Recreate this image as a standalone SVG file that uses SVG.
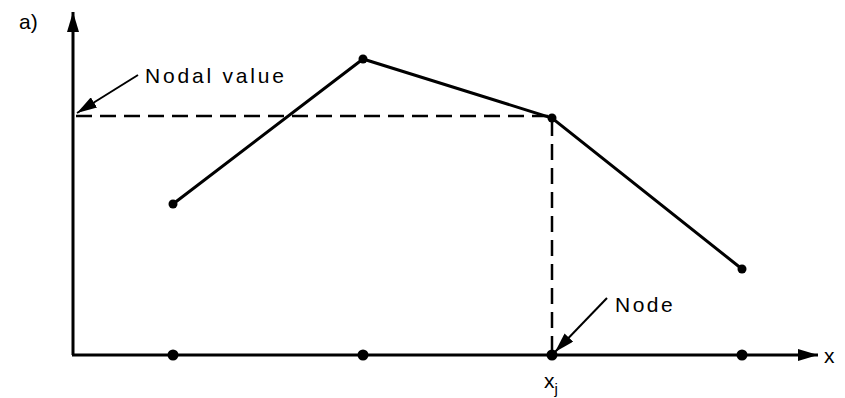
<svg xmlns="http://www.w3.org/2000/svg" width="845" height="398" viewBox="0 0 845 398">
<defs>
<style>
.ax{stroke:#000;stroke-width:3;fill:none}
.ln{stroke:#000;stroke-width:3;fill:none}
.ds{stroke:#000;stroke-width:2.5;fill:none;stroke-dasharray:16,8}
.lead{stroke:#000;stroke-width:2;fill:none}
.t{font-family:"Liberation Sans",Arial,sans-serif;font-size:21px;fill:#000}
.dot{fill:#000}
</style>
<marker id="ah" viewBox="0 0 20 12" refX="20" refY="6" markerWidth="20" markerHeight="12" markerUnits="userSpaceOnUse" orient="auto">
<path d="M0,0 L20,6 L0,12 z" fill="#000"/>
</marker>
<marker id="la" viewBox="0 0 20 12" refX="20" refY="6" markerWidth="20" markerHeight="12" markerUnits="userSpaceOnUse" orient="auto">
<path d="M0,0 L20,6 L0,12 z" fill="#000"/>
</marker>
</defs>
<text class="t" x="19" y="29" font-size="24">a)</text>
<g id="axes">
<line class="ax" x1="73" y1="355" x2="73" y2="12" marker-end="url(#ah)"/>
<line class="ax" x1="72" y1="355" x2="818" y2="355" marker-end="url(#ah)"/>
</g>
<g id="connectors">
<line class="ds" x1="76" y1="116" x2="552" y2="116"/>
<line class="ds" x1="552" y1="120" x2="552" y2="352"/>
<polyline class="ln" points="173,204 363,59 552,118 742,269"/>
<line class="lead" x1="138" y1="75" x2="77" y2="113" marker-end="url(#la)"/>
<line class="lead" x1="607" y1="298" x2="555" y2="352" marker-end="url(#la)"/>
</g>
<g id="node-p1"><circle class="dot" cx="173" cy="204" r="4.5"/></g>
<g id="node-p2"><circle class="dot" cx="363" cy="59" r="4.5"/></g>
<g id="node-p3"><circle class="dot" cx="552" cy="118" r="4.5"/></g>
<g id="node-p4"><circle class="dot" cx="742" cy="269" r="4.5"/></g>
<g id="node-a1"><circle class="dot" cx="173" cy="355" r="5.5"/></g>
<g id="node-a2"><circle class="dot" cx="363" cy="355" r="5.5"/></g>
<g id="node-a3"><circle class="dot" cx="552" cy="355" r="5.5"/></g>
<g id="node-a4"><circle class="dot" cx="742" cy="355" r="5.5"/></g>
<g id="labels">
<text class="t" x="145" y="83" font-size="22" letter-spacing="2.8">Nodal value</text>
<text class="t" x="615" y="312" font-size="20" letter-spacing="2.5">Node</text>
<text class="t" x="824" y="363" font-size="20">x</text>
<text class="t" x="544" y="388" font-size="20">x<tspan font-size="15" dy="6">j</tspan></text>
</g>
</svg>
